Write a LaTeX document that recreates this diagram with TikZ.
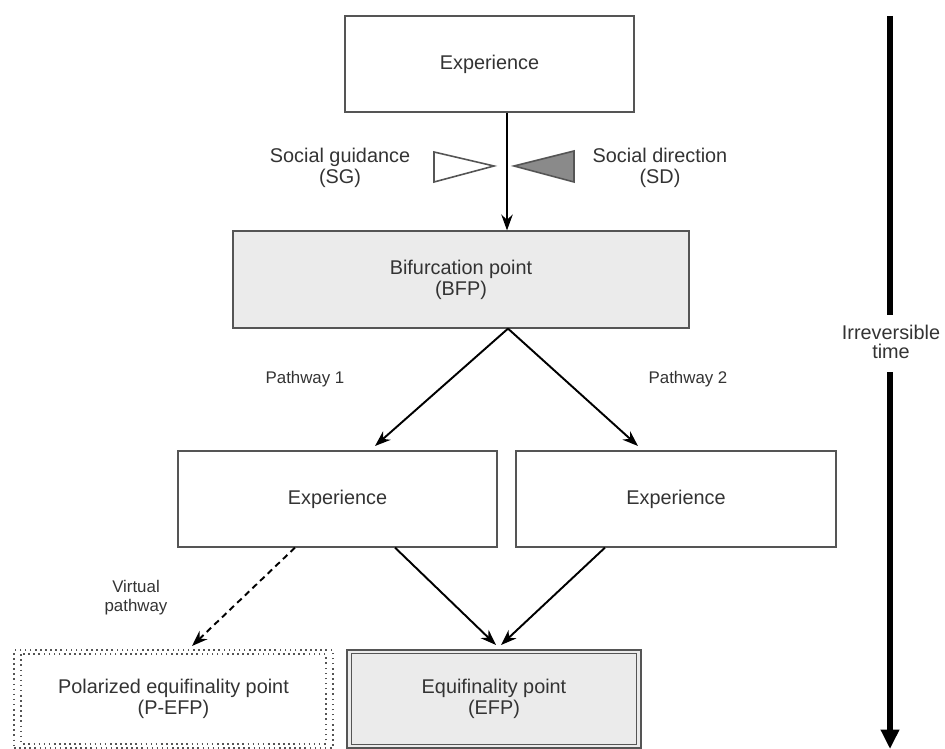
\documentclass[tikz,border=0pt]{standalone}
\usepackage{fontspec}
\setmainfont{Liberation Sans}
\usetikzlibrary{arrows.meta,calc}
\definecolor{txt}{HTML}{333333}
\definecolor{edge}{HTML}{555555}
\definecolor{boxfill}{HTML}{EBEBEB}
\definecolor{trifill}{HTML}{8A8A8A}
\begin{document}
\begin{tikzpicture}[x=0.02cm,y=-0.02cm,
  every node/.style={text=txt, font=\fontsize{11.3}{11.8}\selectfont, align=center},
  box/.style={draw=edge, line width=0.7pt, inner sep=0pt},
  graybox/.style={box, fill=boxfill},
  lbl/.style={font=\fontsize{9.6}{10.8}\selectfont},
  arr/.style={line width=1.1pt, -{Stealth[length=9pt,width=6.5pt]}},
  dasharr/.style={arr, dash pattern=on 3.5pt off 2.5pt}
]
\useasboundingbox (0,0) rectangle (945,749);

% boxes
\node[box, minimum width=5.78cm, minimum height=1.92cm] (top) at (489.5,64) {Experience};
\node[graybox, minimum width=9.12cm, minimum height=1.94cm] (bfp) at (461,279.5) {Bifurcation point\\(BFP)};
\node[box, minimum width=6.38cm, minimum height=1.92cm] (expl) at (337.5,499) {Experience};
\node[box, minimum width=6.4cm, minimum height=1.92cm] (expr) at (676,499) {Experience};
\node[draw=edge, line width=0.9pt, dotted, minimum width=6.38cm, minimum height=1.96cm, inner sep=0pt] (pefp) at (173.5,699) {Polarized equifinality point\\(P-EFP)};
\draw[edge, line width=0.9pt, dotted] ($(pefp.north west)+(8,5)$) rectangle ($(pefp.south east)+(-8,-5)$);
\node[graybox, minimum width=5.88cm, minimum height=1.96cm] (efp) at (494,699) {Equifinality point\\(EFP)};
\draw[edge, line width=0.7pt] ($(efp.north west)+(5,4)$) rectangle ($(efp.south east)+(-5,-4)$);

% labels
\node (sg) at (340,168) {Social guidance\\(SG)};
\node (sd) at (660,168) {Social direction\\(SD)};
\node[lbl] (pw1) at (305,379) {Pathway 1};
\node[lbl] (pw2) at (688,379) {Pathway 2};
\node[lbl] (vp) at (136,598) {Virtual\\pathway};

% triangles
\draw[edge, line width=0.9pt, fill=white] (434,152) -- (434,182) -- (494,166) -- cycle;
\draw[edge, line width=0.9pt, fill=trifill] (574,151) -- (574,182) -- (514,166) -- cycle;

% coordinates
\coordinate (mainx) at (507,0);
\coordinate (apx) at (508,0);
\coordinate (p1end) at (375,446);
\coordinate (p2end) at (638,446);
\coordinate (lx) at (395,0);
\coordinate (rx) at (605,0);
\coordinate (dx) at (295,0);
\coordinate (e1) at (496,645);
\coordinate (e2) at (501,645);
\coordinate (vend) at (192,646);

% connectors
\draw[arr, line width=0.9pt] (top.south -| mainx) -- (bfp.north -| mainx);
\draw[arr] (bfp.south -| apx) -- (p1end);
\draw[arr] (bfp.south -| apx) -- (p2end);
\draw[arr] (expl.south -| lx) -- (e1);
\draw[arr] (expr.south -| rx) -- (e2);
\draw[dasharr] (expl.south -| dx) -- (vend);

% irreversible time
\node[font=\fontsize{11.3}{10.6}\selectfont, inner sep=0pt] (time) at (891,342) {Irreversible\\time};
\coordinate (t0) at (890,16);
\coordinate (t1) at (890,749);
\coordinate (tx) at (890,0);
\draw[line width=3.4pt] (t0) -- ($(time.center -| tx)+(0,-27)$);
\draw[line width=3.4pt, -{Triangle[length=11pt,width=10pt]}] ($(time.center -| tx)+(0,30)$) -- (t1);
\end{tikzpicture}
\end{document}
